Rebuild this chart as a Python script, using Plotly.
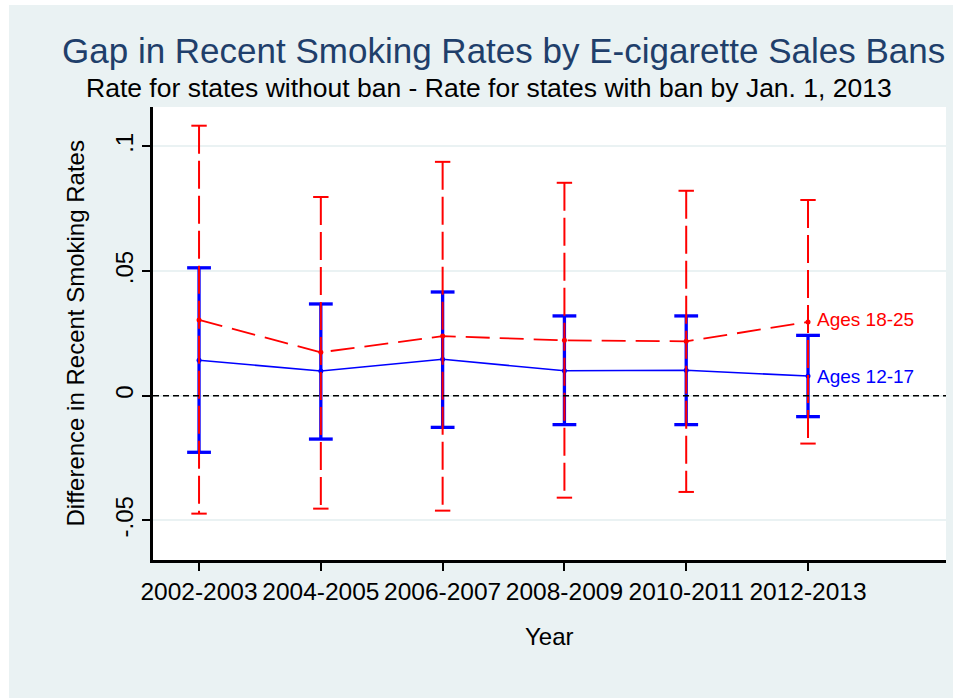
import plotly.graph_objects as go

categories = ["2002-2003", "2004-2005", "2006-2007", "2008-2009", "2010-2011", "2012-2013"]
x_pos = [1, 2, 3, 4, 5, 6]

red_est = [0.0304, 0.0174, 0.0239, 0.0222, 0.0218, 0.0296]
red_hi = [0.1083, 0.0797, 0.0938, 0.0854, 0.0822, 0.0785]
red_lo = [-0.0473, -0.0453, -0.0461, -0.0409, -0.0386, -0.0192]

blue_est = [0.0142, 0.0099, 0.0146, 0.0100, 0.0102, 0.0079]
blue_hi = [0.0513, 0.0368, 0.0416, 0.0320, 0.0320, 0.0242]
blue_lo = [-0.0227, -0.0174, -0.0127, -0.0116, -0.0116, -0.0084]

y_ticks = [-0.05, 0, 0.05, 0.1]
y_ticktext = ["-.05", "0", ".05", ".1"]

RED = "#FF0000"
BLUE = "#0000FF"
BG = "#EAF2F3"
FONT = "Liberation Sans, Arial, Helvetica, sans-serif"

W, H = 953, 698
L, R, T, B = 153, 946, 107, 560


def px(xp):
    return (xp - L) / (R - L)


def py(yp):
    return (B - yp) / (B - T)


def segs(xs, top, bot):
    xx, yy = [], []
    for x, a, b in zip(xs, top, bot):
        xx += [x, x, None]
        yy += [a, b, None]
    return xx, yy


fig = go.Figure()

# blue series (drawn first, below red)
bx, by = segs(x_pos, blue_hi, blue_lo)
fig.add_trace(go.Scatter(x=bx, y=by, mode="lines", line=dict(color=BLUE, width=3.3),
                         hoverinfo="skip", showlegend=False))
fig.add_trace(go.Scatter(x=x_pos + x_pos, y=blue_hi + blue_lo, mode="markers",
                         marker=dict(symbol="line-ew", size=17, line=dict(color=BLUE, width=3.3)),
                         hoverinfo="skip", showlegend=False))
fig.add_trace(go.Scatter(x=x_pos, y=blue_est, mode="lines+markers",
                         line=dict(color=BLUE, width=1.6),
                         marker=dict(color=BLUE, size=5), name="Ages 12-17", showlegend=False))

# red series
rx, ry = segs(x_pos, red_hi, red_lo)
fig.add_trace(go.Scatter(x=rx, y=ry, mode="lines", line=dict(color=RED, width=2, dash="28px,7px"),
                         hoverinfo="skip", showlegend=False))
fig.add_trace(go.Scatter(x=x_pos + x_pos, y=red_hi + red_lo, mode="markers",
                         marker=dict(symbol="line-ew", size=11, line=dict(color=RED, width=2)),
                         hoverinfo="skip", showlegend=False))
fig.add_trace(go.Scatter(x=x_pos, y=red_est, mode="lines+markers",
                         line=dict(color=RED, width=1.8, dash="24px,10px"),
                         marker=dict(color=RED, size=5), name="Ages 18-25", showlegend=False))

# zero reference line
fig.add_shape(type="line", xref="paper", yref="y", x0=0, x1=1, y0=0, y1=0,
              line=dict(color="black", width=1.6, dash="6px,4px"), layer="above")

# white strips outside the gray frame
fig.add_shape(type="rect", xref="paper", yref="paper", x0=px(0), x1=px(9), y0=py(H), y1=py(0),
              fillcolor="white", line=dict(width=0), layer="above")
fig.add_shape(type="rect", xref="paper", yref="paper", x0=px(0), x1=px(W), y0=py(5), y1=py(0),
              fillcolor="white", line=dict(width=0), layer="above")

ann = []
ann.append(dict(text="Gap in Recent Smoking Rates by E-cigarette Sales Bans", x=px(503), y=py(50),
                xref="paper", yref="paper", xanchor="center", yanchor="middle", showarrow=False,
                font=dict(family=FONT, size=35, color="#1F3F6B")))
ann.append(dict(text="Rate for states without ban - Rate for states with ban by Jan. 1, 2013",
                x=px(489), y=py(88), xref="paper", yref="paper", xanchor="center", yanchor="middle",
                showarrow=False, font=dict(family=FONT, size=26.5, color="black")))
ann.append(dict(text="Difference in Recent Smoking Rates", x=px(75), y=0.5, xref="paper", yref="paper",
                xanchor="center", yanchor="middle", textangle=-90, showarrow=False,
                font=dict(family=FONT, size=24, color="black")))
ann.append(dict(text="Year", x=0.5, y=py(636), xref="paper", yref="paper", xanchor="center",
                yanchor="middle", showarrow=False, font=dict(family=FONT, size=24, color="black")))
ann.append(dict(text="Ages 18-25", x=x_pos[-1], y=red_est[-1], xref="x", yref="y", xanchor="left",
                yanchor="middle", xshift=7, yshift=2, showarrow=False,
                font=dict(family=FONT, size=19, color=RED)))
ann.append(dict(text="Ages 12-17", x=x_pos[-1], y=blue_est[-1], xref="x", yref="y", xanchor="left",
                yanchor="middle", xshift=7, showarrow=False, font=dict(family=FONT, size=19, color=BLUE)))

fig.update_layout(
    width=W, height=H,
    margin=dict(l=L, r=W - R, t=T, b=H - B, pad=0),
    paper_bgcolor=BG, plot_bgcolor="white",
    font=dict(family=FONT, size=24, color="black"),
    annotations=ann, showlegend=False,
)
fig.update_xaxes(range=[0.622, 7.133], tickvals=x_pos, ticktext=categories, showgrid=False,
                 zeroline=False, showline=True, linecolor="black", linewidth=2.5,
                 ticks="outside", ticklen=8, tickwidth=2, tickcolor="black",
                 tickfont=dict(family=FONT, size=24.5, color="black"))
fig.update_yaxes(range=[-0.0659, 0.1158], tickvals=y_ticks, ticktext=y_ticktext, tickangle=-90,
                 showgrid=True, gridcolor=BG, gridwidth=2, zeroline=False, showline=True,
                 linecolor="black", linewidth=2.5, ticks="outside", ticklen=8, tickwidth=2,
                 tickcolor="black", tickfont=dict(family=FONT, size=24, color="black"))

fig.write_html("out.html")
